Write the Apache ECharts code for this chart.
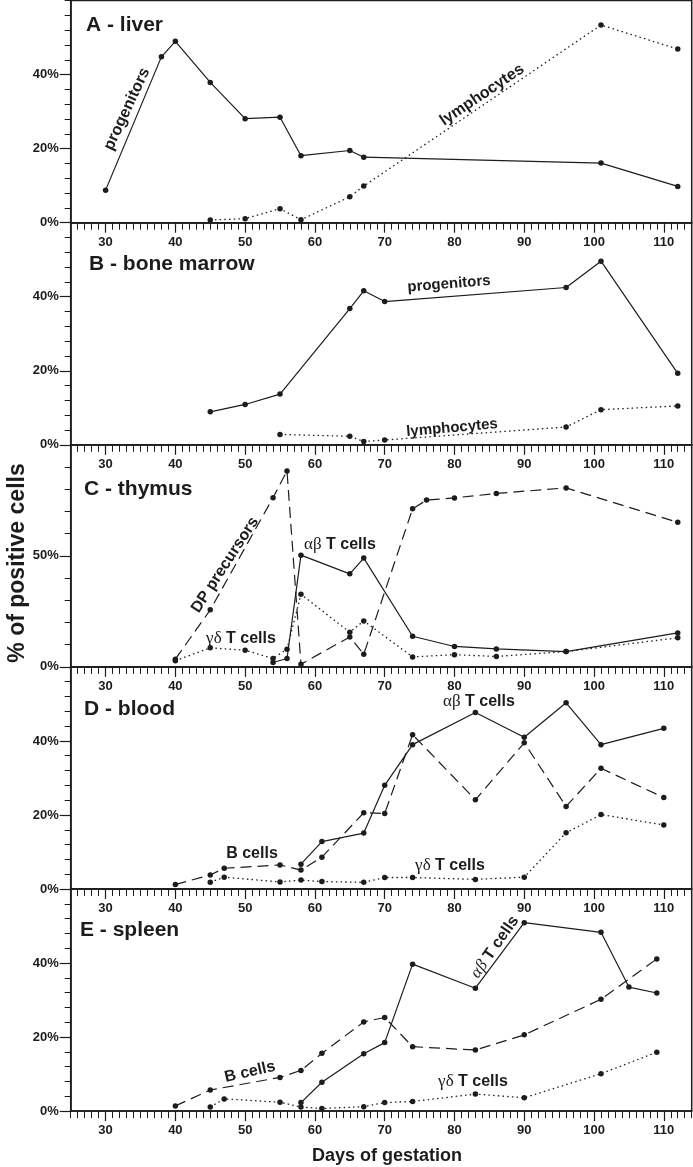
<!DOCTYPE html>
<html><head><meta charset="utf-8">
<script src="https://cdn.jsdelivr.net/npm/echarts@6/dist/echarts.min.js"></script>
<style>html,body{margin:0;padding:0;background:#fff}#c{width:693px;height:1167px}</style>
</head><body><div id="c"></div>
<script>
// ---------- data (days of gestation / % of positive cells) ----------
const xTickLabels = [30, 40, 50, 60, 70, 80, 90, 100, 110];

// A - liver
const aProgDays = [30, 38, 40, 45, 50, 55, 58, 65, 67, 101, 112];
const aProgVals = [8.8, 44.8, 49.0, 37.9, 28.1, 28.5, 18.1, 19.5, 17.7, 16.1, 9.8];
const aLymDays  = [45, 50, 55, 58, 65, 67, 101, 112];
const aLymVals  = [0.7, 1.1, 3.8, 0.8, 7.0, 9.9, 53.4, 46.9];

// B - bone marrow
const bProgDays = [45, 50, 55, 65, 67, 70, 96, 101, 112];
const bProgVals = [8.9, 10.9, 13.7, 36.8, 41.6, 38.7, 42.5, 49.6, 19.3];
const bLymDays  = [55, 65, 67, 70, 96, 101, 112];
const bLymVals  = [2.8, 2.3, 0.9, 1.3, 4.8, 9.5, 10.5];

// C - thymus
const cDpDays = [40, 45, 54, 56, 58, 65, 67, 74, 76, 80, 86, 96, 112];
const cDpVals = [3.5, 25.7, 76.2, 88.2, 1.2, 13.5, 5.7, 71.2, 75.1, 76.1, 78.1, 80.6, 65.1];
const cAbDays = [54, 56, 58, 65, 67, 74, 80, 86, 96, 112];
const cAbVals = [2.0, 3.8, 50.3, 41.9, 49.0, 13.8, 9.2, 8.1, 6.9, 15.3];
const cGdDays = [40, 45, 50, 54, 56, 58, 65, 67, 74, 80, 86, 96, 112];
const cGdVals = [2.8, 8.6, 7.5, 3.8, 8.0, 32.7, 15.6, 20.7, 4.5, 5.5, 4.7, 6.9, 13.1];

// D - blood
const dAbDays = [58, 61, 67, 70, 74, 83, 90, 96, 101, 110];
const dAbVals = [6.7, 12.8, 15.1, 28.0, 39.0, 47.7, 41.0, 50.3, 39.0, 43.4];
const dBDays  = [40, 45, 47, 55, 58, 61, 67, 70, 74, 83, 90, 96, 101, 110];
const dBVals  = [1.2, 3.8, 5.6, 6.5, 5.1, 8.6, 20.6, 20.4, 41.7, 24.1, 39.5, 22.3, 32.6, 24.7];
const dGdDays = [45, 47, 55, 58, 61, 67, 70, 74, 83, 90, 96, 101, 110];
const dGdVals = [1.8, 3.2, 1.9, 2.4, 2.0, 1.8, 3.1, 3.1, 2.6, 3.2, 15.2, 20.1, 17.3];

// E - spleen
const eAbDays = [58, 61, 67, 70, 74, 83, 90, 101, 105, 109];
const eAbVals = [2.3, 7.8, 15.5, 18.5, 39.7, 33.2, 50.9, 48.3, 33.5, 31.9];
const eBDays  = [40, 45, 55, 58, 61, 67, 70, 74, 83, 90, 101, 109];
const eBVals  = [1.4, 5.7, 9.1, 11.0, 15.6, 24.1, 25.3, 17.4, 16.5, 20.6, 30.2, 41.1];
const eGdDays = [45, 47, 55, 58, 61, 67, 70, 74, 83, 90, 101, 109];
const eGdVals = [1.1, 3.3, 2.4, 1.1, 0.7, 1.2, 2.3, 2.6, 4.6, 3.6, 10.1, 15.9];

const yTicks60  = [0, 20, 40];
const yTicks100 = [0, 50];

// ---------- chart ----------
const INK = '#1c1c1c';
const SANS = '"Liberation Sans", Arial, sans-serif';
const SERIF = '"Liberation Serif", "DejaVu Serif", serif';
const X_MIN = 25, X_MAX = 114;
const GL = 70.7, GR = 1.3, TOP0 = 0.6, PH = 222.1;
const GW = 693 - GL - GR;

const LINE = {
  solid: 'solid',
  dashed: [11, 6],
  dotted: [1.5, 3.2]
};

const panels = [
  { yMax: 60, yStep: 4, yMajor: yTicks60, lines: [[aProgDays, aProgVals, 'solid'], [aLymDays, aLymVals, 'dotted']] },
  { yMax: 60, yStep: 4, yMajor: yTicks60, lines: [[bProgDays, bProgVals, 'solid'], [bLymDays, bLymVals, 'dotted']] },
  { yMax: 100, yStep: 10, yMajor: yTicks100, lines: [[cDpDays, cDpVals, 'dashed'], [cAbDays, cAbVals, 'solid'], [cGdDays, cGdVals, 'dotted']] },
  { yMax: 60, yStep: 4, yMajor: yTicks60, lines: [[dBDays, dBVals, 'dashed'], [dAbDays, dAbVals, 'solid'], [dGdDays, dGdVals, 'dotted']] },
  { yMax: 60, yStep: 4, yMajor: yTicks60, lines: [[eBDays, eBVals, 'dashed'], [eAbDays, eAbVals, 'solid'], [eGdDays, eGdVals, 'dotted']] }
];

const grid = [], xAxis = [], yAxis = [], series = [];
panels.forEach((p, i) => {
  grid.push({ left: GL, right: GR, top: TOP0 + i * PH, height: PH, show: true,
    borderColor: INK, borderWidth: 1.5, backgroundColor: 'transparent', outerBoundsMode: 'none' });
  // minor x ticks (every day) + axis line
  xAxis.push({ gridIndex: i, type: 'value', min: X_MIN, max: X_MAX, interval: 1, position: 'bottom',
    axisLine: { onZero: false, lineStyle: { color: INK, width: 1.6 } },
    axisTick: { show: true, length: 7, lineStyle: { color: INK, width: 1 } },
    axisLabel: { show: false }, splitLine: { show: false } });
  // major x ticks + labels (drawn at the bottom edge)
  xAxis.push({ gridIndex: i, type: 'value', min: X_MIN, max: X_MAX, position: 'top', offset: -PH,
    axisLine: { show: false, onZero: false },
    axisTick: { show: true, inside: true, length: 10, customValues: xTickLabels, lineStyle: { color: INK, width: 1.2 } },
    axisLabel: { show: true, inside: true, margin: 13, customValues: xTickLabels, color: INK,
      fontFamily: SANS, fontWeight: 'bold', fontSize: 13 },
    splitLine: { show: false } });
  // minor y ticks + axis line
  yAxis.push({ gridIndex: i, type: 'value', min: 0, max: p.yMax, interval: p.yStep, position: 'left',
    axisLine: { show: true, onZero: false, lineStyle: { color: INK, width: 1.6 } },
    axisTick: { show: true, length: 6, lineStyle: { color: INK, width: 1 } },
    axisLabel: { show: false }, splitLine: { show: false } });
  // major y ticks + labels
  yAxis.push({ gridIndex: i, type: 'value', min: 0, max: p.yMax, position: 'right', offset: -GW,
    axisLine: { show: false, onZero: false },
    axisTick: { show: true, inside: true, length: 11, customValues: p.yMajor, lineStyle: { color: INK, width: 1.2 } },
    axisLabel: { show: true, inside: true, margin: 12, customValues: p.yMajor, formatter: '{value}%',
      color: INK, fontFamily: SANS, fontWeight: 'bold', fontSize: 13 },
    splitLine: { show: false } });
  p.lines.forEach(([days, vals, kind]) => {
    series.push({ type: 'line', xAxisIndex: 2 * i, yAxisIndex: 2 * i,
      data: days.map((d, k) => [d, vals[k]]),
      symbol: 'circle', symbolSize: 5.5, showSymbol: true,
      lineStyle: { color: INK, width: kind === 'dotted' ? 1.3 : 1.2, type: LINE[kind] },
      itemStyle: { color: INK }, emphasis: { disabled: true }, silent: true });
  });
});

function txt(text, x, y, size, rotDeg, extra) {
  return Object.assign({ type: 'text', x: x, y: y, rotation: (rotDeg || 0) * Math.PI / 180, z: 50,
    style: { text: text, x: 0, y: 0, align: 'center', verticalAlign: 'middle', fill: INK,
      font: 'bold ' + size + 'px ' + SANS } }, extra || {});
}
function greek(g, x, y, rotDeg, italic) {
  const t = txt('{g|' + g + '} {b|T cells}', x, y, 16, rotDeg);
  t.style.rich = {
    g: { fontFamily: SERIF, fontSize: 17, fontStyle: italic ? 'italic' : 'normal', fill: INK, fontWeight: 'normal' },
    b: { fontFamily: SANS, fontSize: 16, fontWeight: 'bold', fill: INK }
  };
  return t;
}
function title(text, x, y) {
  const t = txt(text, x, y, 21, 0);
  t.style.align = 'left';
  return t;
}

const graphic = [
  title('A - liver', 86, 25),
  title('B - bone marrow', 89, 264),
  title('C - thymus', 84, 489),
  title('D - blood', 84, 709),
  title('E - spleen', 80, 930),
  txt('progenitors', 127, 109, 16, 65),
  txt('lymphocytes', 482, 95, 16, 34),
  txt('progenitors', 449, 284, 15, 4.5),
  txt('lymphocytes', 452, 428, 15, 5),
  txt('DP precursors', 225, 565, 16, 57),
  greek('αβ', 340, 545, 0, false),
  greek('γδ', 241, 639, 0, false),
  greek('αβ', 479, 702, 0, false),
  txt('B cells', 252, 854, 16, 0),
  greek('γδ', 450, 866, 0, false),
  greek('αβ', 495, 947, 55, true),
  txt('B cells', 250, 1072, 16, 13),
  greek('γδ', 473, 1082, 0, false),
  txt('% of positive cells', 18, 563, 23, 90),
  txt('Days of gestation', 387, 1156, 18, 0)
];

const chart = echarts.init(document.getElementById('c'), null, { renderer: 'canvas' });
chart.setOption({ animation: false, backgroundColor: '#fff', grid, xAxis, yAxis, series, graphic });
</script>
</body></html>
